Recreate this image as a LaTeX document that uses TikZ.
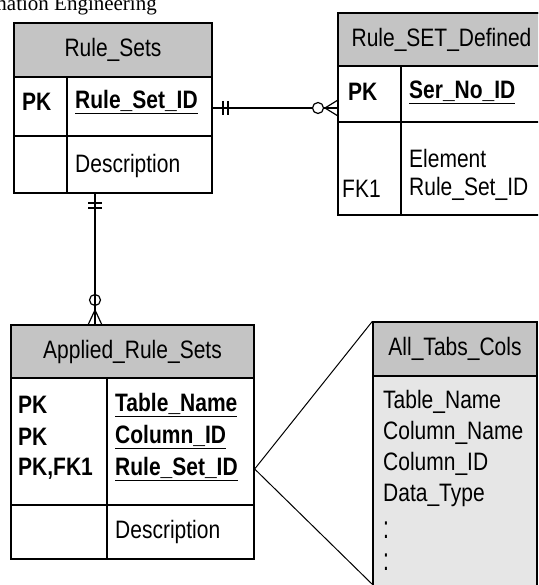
\documentclass[tikz,border=0pt]{standalone}
\usepackage{fontspec}
\setmainfont{Liberation Sans}
\newfontfamily\seriffont{Liberation Serif}
\usepackage{graphicx}
\newcommand{\stx}[1]{\scalebox{1}[1.2]{#1}}
\definecolor{hdrgray}{HTML}{C4C4C4}
\definecolor{bodygray}{HTML}{E6E6E6}
\tikzset{
  tblbox/.style={draw, line width=1.3pt, inner sep=0pt},
  hdrbox/.style={draw, line width=1.3pt, fill=hdrgray, inner sep=0pt},
  divline/.style={line width=1.3pt},
  txt/.style={inner sep=0pt, font=\fontsize{21}{25}\selectfont},
  btxt/.style={inner sep=0pt, font=\fontsize{21}{25}\selectfont\bfseries},
  rel/.style={line width=1.8pt},
  relthin/.style={line width=1.2pt},
  expl/.style={line width=1pt}
}
\begin{document}
\begin{tikzpicture}[x=1pt,y=-1pt]
\useasboundingbox (0,0) rectangle (538,585);
\clip (0,0) rectangle (538,585);

% clipped page header
\node[inner sep=0pt, anchor=base east, font=\fontsize{21}{25}\seriffont] (pagehdr) at (157,11) {Information Engineering};

% ---------- Rule_Sets ----------
\node[tblbox, fill=white, minimum width=198pt, minimum height=170pt] (rs) at (113,108) {};
\node[hdrbox, minimum width=198pt, minimum height=54pt] (rsh) at (113,50) {};
\node[txt] (rsht) at (113,50) {\stx{Rule\_Sets}};
\draw[divline] (14,136) -- (212,136);
\draw[divline] (67,77) -- (67,193);
\node[btxt, anchor=west] (rspk) at (22,102) {\stx{PK}};
\node[btxt, anchor=west] (rsid) at (75,102) {\stx{\underline{Rule\_Set\_ID}}};
\node[txt, anchor=west] (rsdesc) at (75,166) {\stx{Description}};
\coordinate (row1) at (0,108);

% ---------- Rule_SET_Defined ----------
\node[tblbox, fill=white, minimum width=207pt, minimum height=202pt] (rsd) at (441.5,114) {};
\node[hdrbox, minimum width=207pt, minimum height=53pt] (rsdh) at (441.5,39.5) {};
\node[txt] (rsdht) at (441.5,40) {\stx{Rule\_SET\_Defined}};
\draw[divline] (338,122) -- (545,122);
\draw[divline] (401,66) -- (401,215);
\node[btxt, anchor=west] (rsdpk) at (348,92) {\stx{PK}};
\node[btxt, anchor=west] (rsdid) at (409,92) {\stx{\underline{Ser\_No\_ID}}};
\node[txt, anchor=west] (rsdel) at (409,158) {\stx{Element}};
\node[txt, anchor=west] (rsdrs) at (409,189) {\stx{Rule\_Set\_ID}};
\node[txt, anchor=west] (rsdfk) at (342,189) {\stx{FK1}};

% ---------- Applied_Rule_Sets ----------
\node[tblbox, fill=white, minimum width=243pt, minimum height=234pt] (ars) at (132.5,442) {};
\node[hdrbox, minimum width=243pt, minimum height=53pt] (arsh) at (132.5,351.5) {};
\node[txt] (arsht) at (132.5,352) {\stx{Applied\_Rule\_Sets}};
\draw[divline] (11,505) -- (254,505);
\draw[divline] (107,378) -- (107,559);
\node[btxt, anchor=west] (arspk1) at (18,405) {\stx{PK}};
\node[btxt, anchor=west] (arspk2) at (18,437) {\stx{PK}};
\node[btxt, anchor=west] (arspk3) at (18,469) {\stx{PK,FK1}};
\node[btxt, anchor=west] (arstn) at (115,405) {\stx{\underline{Table\_Name}}};
\node[btxt, anchor=west] (arsci) at (115,437) {\stx{\underline{Column\_ID}}};
\node[btxt, anchor=west] (arsrs) at (115,469) {\stx{\underline{Rule\_Set\_ID}}};
\node[txt, anchor=west] (arsdesc) at (115,532) {\stx{Description}};

% ---------- All_Tabs_Cols ----------
\node[tblbox, fill=bodygray, minimum width=164pt, minimum height=278pt] (atc) at (455,461) {};
\node[hdrbox, minimum width=164pt, minimum height=54pt] (atch) at (455,349) {};
\node[txt] (atcht) at (455,349) {\stx{All\_Tabs\_Cols}};
\node[txt, anchor=west] (atc1) at (383,402) {\stx{Table\_Name}};
\node[txt, anchor=west] (atc2) at (383,433) {\stx{Column\_Name}};
\node[txt, anchor=west] (atc3) at (383,464) {\stx{Column\_ID}};
\node[txt, anchor=west] (atc4) at (383,495) {\stx{Data\_Type}};
\node[txt, anchor=west] (atc5) at (383,530) {\scalebox{1}[1.5]{:}};
\node[txt, anchor=west] (atc6) at (383,562) {\scalebox{1}[1.5]{:}};

% ---------- relationship Rule_Sets -- Rule_SET_Defined ----------
\coordinate (c1) at (318,108);
\draw[rel] (rs.east |- row1) -- ([xshift=-5.5pt]c1);
\draw[relthin] (c1) circle (5.5pt);
\draw[rel] ([xshift=5.5pt]c1) -- (rsd.west |- row1);
\coordinate (cf1) at (325,108);
\draw[relthin] (cf1) -- (338,100);
\draw[relthin] (cf1) -- (338,116);
\draw[relthin] (223,101) -- (223,115);
\draw[relthin] (228,101) -- (228,115);

% ---------- relationship Rule_Sets -- Applied_Rule_Sets ----------
\coordinate (c2) at (95,300);
\draw[rel] (rs.south -| c2) -- ([yshift=-5.5pt]c2);
\draw[relthin] (c2) circle (5.5pt);
\draw[rel] ([yshift=5.5pt]c2) -- (ars.north -| c2);
\coordinate (cf2) at (95,310);
\draw[relthin] (cf2) -- (88,325);
\draw[relthin] (cf2) -- (102,325);
\draw[relthin] (88,203) -- (102,203);
\draw[relthin] (88,208) -- (102,208);

% ---------- expansion lines ----------
\coordinate (expb) at (373,585);
\draw[expl] (ars.east |- arsrs) -- (atch.north west);
\draw[expl] (ars.east |- arsrs) -- (expb);
\end{tikzpicture}
\end{document}
